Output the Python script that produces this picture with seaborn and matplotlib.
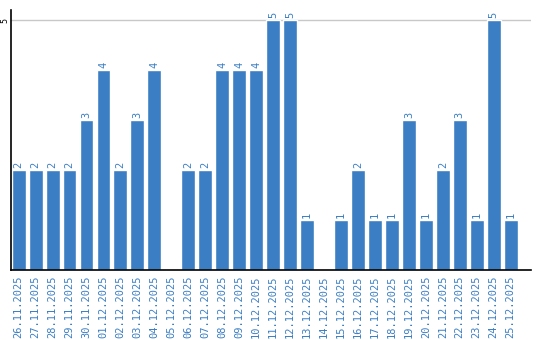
import matplotlib
matplotlib.use("Agg")
import matplotlib.pyplot as plt
import seaborn as sns
import pandas as pd

dates = ["26.11.2025", "27.11.2025", "28.11.2025", "29.11.2025", "30.11.2025",
         "01.12.2025", "02.12.2025", "03.12.2025", "04.12.2025", "05.12.2025",
         "06.12.2025", "07.12.2025", "08.12.2025", "09.12.2025", "10.12.2025",
         "11.12.2025", "12.12.2025", "13.12.2025", "14.12.2025", "15.12.2025",
         "16.12.2025", "17.12.2025", "18.12.2025", "19.12.2025", "20.12.2025",
         "21.12.2025", "22.12.2025", "23.12.2025", "24.12.2025", "25.12.2025"]
values = [2, 2, 2, 2, 3, 4, 2, 3, 4, 0,
          2, 2, 4, 4, 4, 5, 5, 1, 0, 1,
          2, 1, 1, 3, 1, 2, 3, 1, 5, 1]
y_ticks = [5]

df = pd.DataFrame({"date": dates, "count": values})

sns.set_style("white")
plt.rcParams['font.family'] = ['DejaVu Sans Mono', 'DejaVu Sans']

blue = "#3b7ec4"
fig = plt.figure(figsize=(5.4, 3.4), dpi=100)
ax = fig.add_axes([11/540, 70/340, 520/540, 260/340])
sns.barplot(data=df, x="date", y="count", color=blue, width=0.82,
            saturation=1, ax=ax)

ax.set_ylim(0, 5.2)
ax.set_xlim(-0.45, 30.2)
ax.set_yticks(y_ticks)
ax.set_yticklabels([str(t) for t in y_ticks], rotation=90, va="center",
                   fontsize=6, color="black")
ax.tick_params(axis="y", length=0, pad=1.5)
ax.tick_params(axis="x", length=0, pad=4)
ax.set_xticks(range(len(dates)))
ax.set_xticklabels(dates, rotation=90, fontsize=7.5, color=blue)
ax.set_xlabel("")
ax.set_ylabel("")
ax.yaxis.grid(True, color="#c8c8c8", linewidth=1)
ax.set_axisbelow(True)
for side in ["top", "right"]:
    ax.spines[side].set_visible(False)
for side in ["left", "bottom"]:
    ax.spines[side].set_color("black")
    ax.spines[side].set_linewidth(1.2)

for i, v in enumerate(values):
    if v > 0:
        ax.text(i, v + 0.05, str(v), rotation=90, ha="center", va="bottom",
                fontsize=7.5, color=blue)

fig.savefig("out.png", dpi=100)
